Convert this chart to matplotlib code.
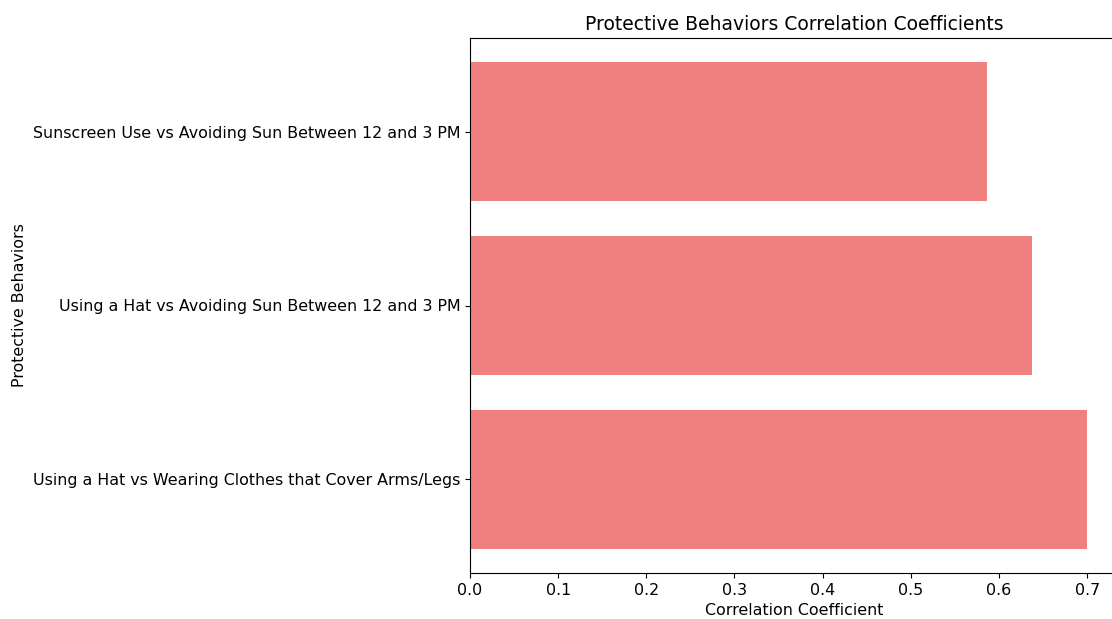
import matplotlib
matplotlib.use("Agg")
from matplotlib import pyplot as plt

# bottom to top, as drawn by barh
behaviors = ["Using a Hat vs Wearing Clothes that Cover Arms/Legs",
             "Using a Hat vs Avoiding Sun Between 12 and 3 PM",
             "Sunscreen Use vs Avoiding Sun Between 12 and 3 PM"]
correlations = [0.700, 0.637, 0.586]

plt.rcParams["font.size"] = 11.4

fig = plt.figure(figsize=(11.12, 6.19), dpi=100)
ax = fig.add_axes([470/1112, 46/619, 648/1112, 535/619])
ax.barh(behaviors, correlations, color="lightcoral")
ax.set_xlabel("Correlation Coefficient")
ax.set_ylabel("Protective Behaviors")
ax.set_title("Protective Behaviors Correlation Coefficients", fontsize=13.5)

fig.savefig("out.png", dpi=100)
